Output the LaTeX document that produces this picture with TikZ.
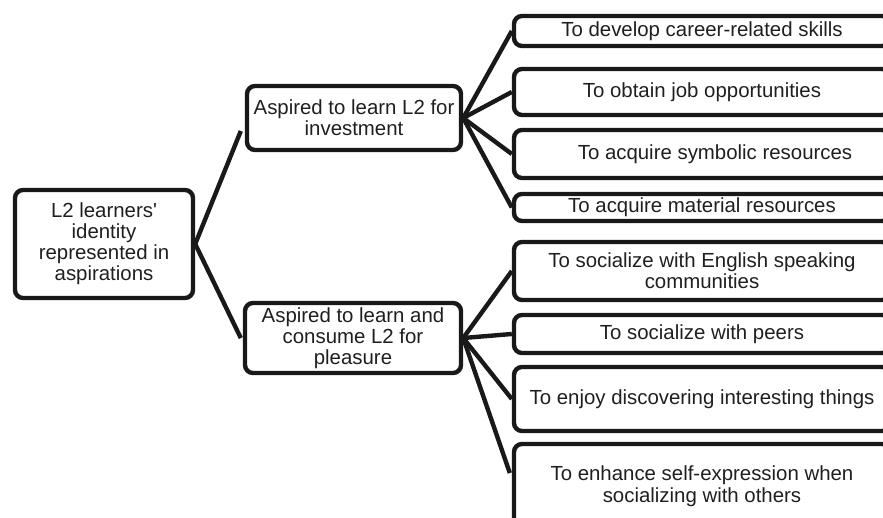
\documentclass[tikz,border=0pt]{standalone}
\usepackage{fontspec}
\setmainfont{Liberation Sans}
\usetikzlibrary{calc}
\begin{document}
\begin{tikzpicture}[x=1pt,y=-1pt,
  box/.style={draw=black!90, line width=4.4pt, rounded corners=8pt, align=center,
    inner sep=0pt, font=\fontsize{20.4}{21}\selectfont, text=black!88},
  leaf/.style={box, minimum width=376pt},
  link/.style={draw=black!90, line width=4.4pt}]
\useasboundingbox (0,0) rectangle (883,518);
\begin{scope}
\clip (0,0) rectangle (883,518);
\node[box, minimum width=178pt, minimum height=108pt] (root) at (104,244)
  {L2 learners\textquotesingle\\identity\\represented in\\aspirations};
\node[box, minimum width=214pt, minimum height=64pt] (m1) at (354,118)
  {Aspired to learn L2 for\\investment};
\node[box, minimum width=216pt, minimum height=70pt] (m2) at (353,338)
  {Aspired to learn and\\consume L2 for\\pleasure};
\node[leaf, minimum height=30pt] (l1) at (702,31) {To develop career-related skills};
\node[leaf, minimum height=46pt] (l2) at (702,92) {To obtain job opportunities};
\node[leaf, minimum height=48pt] (l3) at (702,154) {\hspace*{26pt}To acquire symbolic resources};
\node[leaf, minimum height=27pt] (l4) at (702,207.5) {To acquire material resources};
\node[leaf, minimum height=58pt] (l5) at (702,271) {To socialize with English speaking\\communities};
\node[leaf, minimum height=38pt] (l6) at (702,334) {To socialize with peers};
\node[leaf, minimum height=64pt] (l7) at (702,399) {To enjoy discovering interesting things};
\node[leaf, minimum height=84pt, font=\fontsize{20.4}{22}\selectfont] (l8) at (702,486) {To enhance self-expression when\\socializing with others};
\coordinate (m1in) at ($(m1.west)+(-4,13)$);
\coordinate (m2in) at ($(m2.west)+(-2,0)$);
\coordinate (l8in) at ($(l8.west)+(-2,-13)$);
\draw[link] (root.east) -- (m1in);
\draw[link] (root.east) -- (m2in);
\draw[link] (m1.east) -- (l1.west);
\draw[link] (m1.east) -- (l2.west);
\draw[link] (m1.east) -- (l3.west);
\draw[link] (m1.east) -- (l4.west);
\draw[link] (m2.east) -- (l5.west);
\draw[link] (m2.east) -- (l6.west);
\draw[link] (m2.east) -- (l7.west);
\draw[link] (m2.east) -- (l8in);
\end{scope}
\end{tikzpicture}
\end{document}
